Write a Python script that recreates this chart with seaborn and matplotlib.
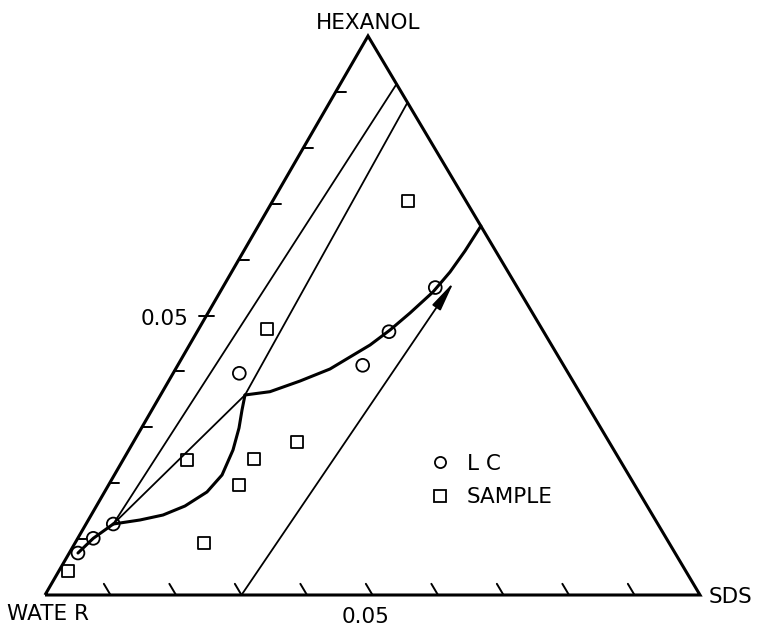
import matplotlib
matplotlib.use("Agg")
import numpy as np
import pandas as pd
import matplotlib.pyplot as plt
from matplotlib.transforms import Affine2D
from matplotlib.lines import Line2D
import seaborn as sns

# Compositions in mass fraction (SDS, hexanol); each side of the diagram spans 0 to 0.1,
# water is the remainder.
lc_sds = [0.00133, 0.00237, 0.00416, 0.01011, 0.02824, 0.02929, 0.03246]
lc_hex = [0.00751, 0.01014, 0.01270, 0.03966, 0.04109, 0.04710, 0.05500]

sample_sds = [0.00141, 0.00972, 0.01966, 0.01996, 0.01996, 0.02500, 0.01050, 0.02060]
sample_hex = [0.00435, 0.02415, 0.00936, 0.01968, 0.02433, 0.02742, 0.04753, 0.07054]

# lower phase boundary (from the water-rich LC point up to the junction)
lower_sds = [0.00416, 0.00789, 0.01096, 0.01352, 0.01564, 0.01644, 0.01591, 0.01489, 0.01376, 0.01289]
lower_hex = [0.01270, 0.01342, 0.01431, 0.01592, 0.01843, 0.02147, 0.02594, 0.02987, 0.03309, 0.03578]

# upper phase boundary (from the junction to the SDS-hexanol side)
upper_sds = [0.01289, 0.01641, 0.02006, 0.02357, 0.02557, 0.02757, 0.02930, 0.03085, 0.03250, 0.03334, 0.03377, 0.03400]
upper_hex = [0.03578, 0.03637, 0.03828, 0.04043, 0.04258, 0.04472, 0.04741, 0.05045, 0.05420, 0.05778, 0.06154, 0.06600]

# dilution lines
line_a_sds = [0.00416, 0.00860]
line_a_hex = [0.01270, 0.09140]
line_b_sds = [0.00416, 0.01289, 0.01190]
line_b_hex = [0.01270, 0.03578, 0.08810]

# path followed by the arrow
path_start = (0.0300, 0.0)
path_end = (0.0348, 0.0560)

tick_values = [0.01, 0.02, 0.03, 0.04, 0.05, 0.06, 0.07, 0.08, 0.09]
full_scale = 0.1

sns.set_theme(style="white")
plt.rcParams["font.family"] = ["DejaVu Sans"]

fig = plt.figure(figsize=(7.58, 6.29), dpi=100)
ax = fig.add_axes([0, 0, 1, 1])
ax.set_xlim(0, 758)
ax.set_ylim(629, 0)
ax.axis("off")

# corners of the triangle on the canvas
water_xy = (45.0, 595.0)
sds_xy = (700.0, 595.0)
hex_xy = (368.0, 36.0)
tern = Affine2D.from_values(
    (sds_xy[0] - water_xy[0]) / full_scale, 0.0,
    (hex_xy[0] - water_xy[0]) / full_scale, (hex_xy[1] - water_xy[1]) / full_scale,
    water_xy[0], water_xy[1],
) + ax.transData

ink = "black"

# triangle frame
ax.plot([0, full_scale, 0, 0], [0, 0, full_scale, 0], transform=tern,
        color=ink, lw=2.2, solid_joinstyle="miter", solid_capstyle="butt")

# scale ticks: horizontal ones on the water-hexanol side, slanted ones on the base
for v in tick_values:
    if abs(v - 0.05) < 1e-9:
        ax.plot([-0.0011, 0.0012], [v, v], transform=tern, color=ink, lw=1.4)
    else:
        ax.plot([0, 0.0015], [v, v], transform=tern, color=ink, lw=1.4)
    ax.plot([v, v - 0.002], [0, 0.002], transform=tern, color=ink, lw=1.4)

# thin dilution lines
sns.lineplot(x=line_a_sds, y=line_a_hex, sort=False, estimator=None, color=ink,
             lw=1.3, transform=tern, ax=ax)
sns.lineplot(x=line_b_sds, y=line_b_hex, sort=False, estimator=None, color=ink,
             lw=1.3, transform=tern, ax=ax)

# phase boundaries
for bx, by in [(lower_sds, lower_hex), (upper_sds, upper_hex), (lc_sds[:3], lc_hex[:3])]:
    sns.lineplot(x=bx, y=by, sort=False, estimator=None, color=ink,
                 lw=2.2, transform=tern, ax=ax, solid_joinstyle="round")

# arrow along the sampling path
ax.annotate("", xy=path_end, xytext=path_start, xycoords=tern, textcoords=tern,
            arrowprops=dict(arrowstyle="-|>,head_length=1.8,head_width=0.3",
                            color=ink, lw=1.3, shrinkA=0, shrinkB=0,
                            mutation_scale=10))

# data points
sns.scatterplot(x=lc_sds, y=lc_hex, marker="o", s=85, facecolor="none",
                edgecolor=ink, linewidth=1.3, transform=tern, ax=ax, zorder=5)
sns.scatterplot(x=sample_sds, y=sample_hex, marker="s", s=78, facecolor="none",
                edgecolor=ink, linewidth=1.3, transform=tern, ax=ax, zorder=5)

ax.set_xlim(0, 758)
ax.set_ylim(629, 0)

fs = 15.5
ax.text(368, 23, "HEXANOL", ha="center", va="center", fontsize=fs, color=ink)
ax.text(48, 614, "WATE R", ha="center", va="center", fontsize=fs, color=ink)
ax.text(731, 597, "SDS", ha="center", va="center", fontsize=fs, color=ink)
ax.text(366, 617, "0.05", ha="center", va="center", fontsize=fs, color=ink)
ax.text(188, 319, "0.05", ha="right", va="center", fontsize=fs, color=ink)

handles = [
    Line2D([], [], marker="o", ls="none", mfc="none", mec=ink, ms=8, mew=1.3),
    Line2D([], [], marker="s", ls="none", mfc="none", mec=ink, ms=8, mew=1.3),
]
ax.legend(handles, ["L C", "SAMPLE"], loc="upper left", bbox_to_anchor=(429, 454),
          bbox_transform=ax.transData, frameon=False, fontsize=fs, labelcolor=ink,
          handlelength=1.0, handletextpad=0.75, labelspacing=0.62,
          borderpad=0, borderaxespad=0)

fig.savefig("out.png", dpi=100, facecolor="white")
